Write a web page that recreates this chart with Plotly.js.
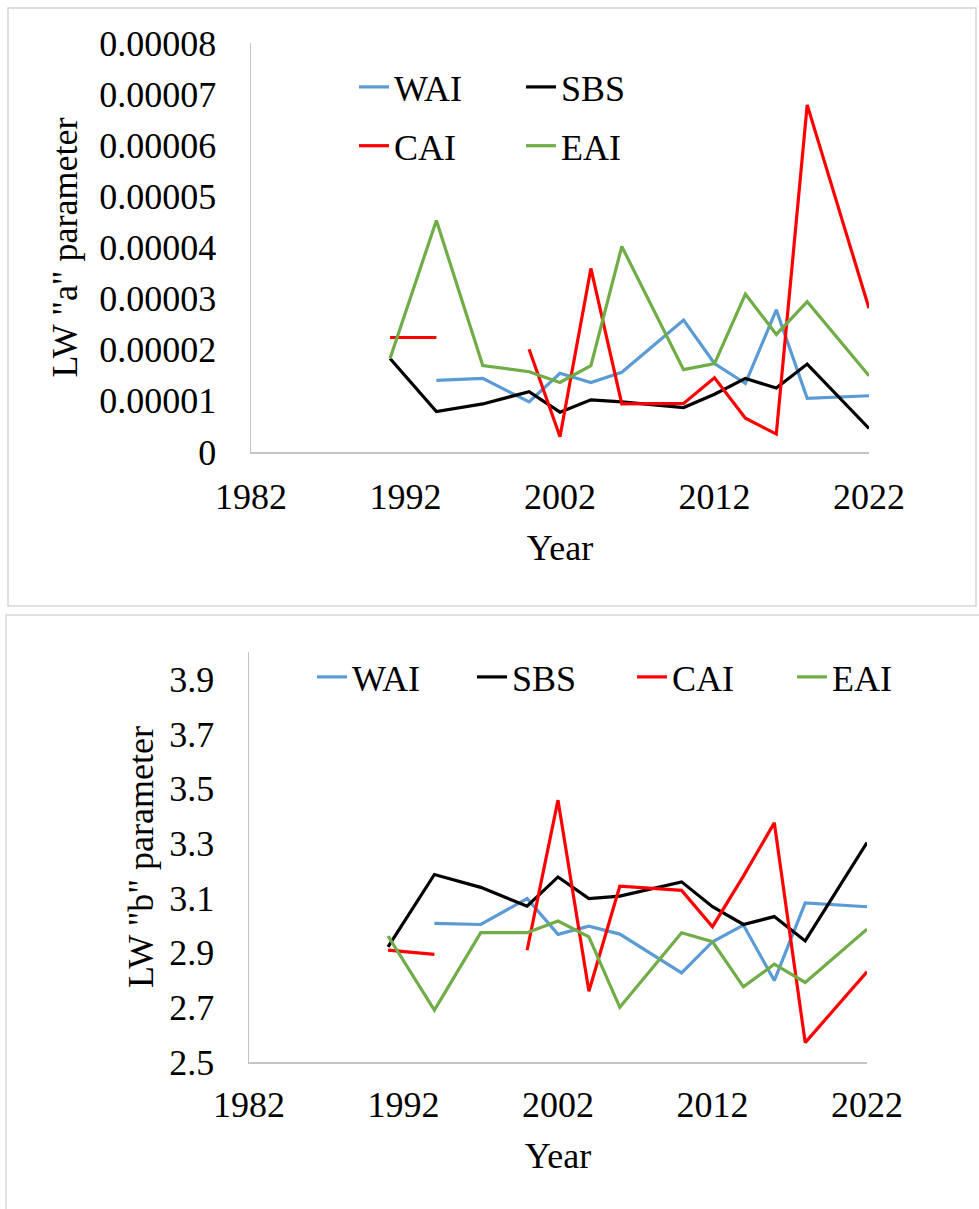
<!DOCTYPE html>
<html>
<head>
<meta charset="utf-8">
<script src="https://cdn.plot.ly/plotly-3.0.1.min.js"></script>
<style>
  html, body { margin: 0; padding: 0; background: #fff; }
  #chart { width: 979px; height: 1209px; }
</style>
</head>
<body>
<div id="chart"></div>
<script>
// sampling years (same for both panels)
const years = [1991, 1994, 1997, 2000, 2002, 2004, 2006, 2010, 2012, 2014, 2016, 2018, 2022];
const seriesNames = ['WAI', 'SBS', 'CAI', 'EAI'];
const seriesColors = ['#5b9bd5', '#000000', '#ff0000', '#70ad47'];

// LW "a" parameter per region
const aWAI = [null, 1.40e-5, 1.44e-5, 0.98e-5, 1.54e-5, 1.36e-5, 1.56e-5, 2.58e-5, 1.73e-5, 1.34e-5, 2.78e-5, 1.05e-5, 1.10e-5];
const aSBS = [1.83e-5, 0.79e-5, 0.94e-5, 1.18e-5, 0.78e-5, 1.02e-5, 0.98e-5, 0.87e-5, 1.13e-5, 1.44e-5, 1.25e-5, 1.72e-5, 0.46e-5];
const aCAI = [2.24e-5, 2.24e-5, null, 2.01e-5, 0.30e-5, 3.59e-5, 0.94e-5, 0.95e-5, 1.45e-5, 0.66e-5, 0.35e-5, 6.79e-5, 2.81e-5];
const aEAI = [1.83e-5, 4.53e-5, 1.69e-5, 1.57e-5, 1.36e-5, 1.69e-5, 4.02e-5, 1.61e-5, 1.73e-5, 3.09e-5, 2.30e-5, 2.94e-5, 1.49e-5];

// LW "b" parameter per region
const bWAI = [null, 3.007, 3.003, 3.098, 2.967, 2.997, 2.968, 2.826, 2.940, 3.001, 2.798, 3.082, 3.068];
const bSBS = [2.921, 3.186, 3.139, 3.070, 3.177, 3.098, 3.107, 3.159, 3.068, 3.003, 3.032, 2.943, 3.303];
const bCAI = [2.909, 2.894, null, 2.909, 3.458, 2.759, 3.143, 3.128, 2.995, 3.180, 3.375, 2.571, 2.830];
const bEAI = [2.961, 2.690, 2.973, 2.973, 3.016, 2.958, 2.700, 2.973, 2.940, 2.775, 2.858, 2.791, 2.986];

// tick labels
const yearTicks = [1982, 1992, 2002, 2012, 2022];
const aTickVals = [0, 0.00001, 0.00002, 0.00003, 0.00004, 0.00005, 0.00006, 0.00007, 0.00008];
const aTickText = ['0', '0.00001', '0.00002', '0.00003', '0.00004', '0.00005', '0.00006', '0.00007', '0.00008'];
const bTickVals = [2.5, 2.7, 2.9, 3.1, 3.3, 3.5, 3.7, 3.9];
const bTickText = ['2.5', '2.7', '2.9', '3.1', '3.3', '3.5', '3.7', '3.9'];

const W = 979, H = 1209;
const px = x => x / W;
const py = y => 1 - y / H;

const FONT = '"Liberation Serif", "Times New Roman", Times, serif';
const AXIS_GREY = '#c4c4c4';
const BOX_GREY = '#d6d6d6';

const aValues = [aWAI, aSBS, aCAI, aEAI];
const bValues = [bWAI, bSBS, bCAI, bEAI];

const traces = [];

// top panel: legend is a 2x2 grid, so use two vertical legends side by side
aValues.forEach((vals, i) => {
  traces.push({
    type: 'scatter',
    mode: 'lines',
    x: years,
    y: vals,
    name: seriesNames[i],
    line: { color: seriesColors[i], width: 3.2 },
    connectgaps: false,
    xaxis: 'x',
    yaxis: 'y',
    legend: (i === 0 || i === 2) ? 'legend' : 'legend2',
    legendgroup: 'a' + seriesNames[i]
  });
});

// bottom panel: single horizontal legend
bValues.forEach((vals, i) => {
  traces.push({
    type: 'scatter',
    mode: 'lines',
    x: years,
    y: vals,
    name: seriesNames[i],
    line: { color: seriesColors[i], width: 3.2 },
    connectgaps: false,
    xaxis: 'x2',
    yaxis: 'y2',
    legend: 'legend3',
    legendgroup: 'b' + seriesNames[i]
  });
});

function xAxis(domain, anchor, labelGap, titleGap) {
  return {
    domain: domain,
    anchor: anchor,
    range: [1982, 2022],
    tickvals: yearTicks,
    ticktext: yearTicks.map(String),
    showgrid: false,
    zeroline: false,
    showline: true,
    linecolor: AXIS_GREY,
    linewidth: 1.5,
    ticks: '',
    ticklabelstandoff: labelGap,
    tickfont: { family: FONT, size: 36, color: '#000' },
    title: { text: 'Year', font: { family: FONT, size: 36, color: '#000' }, standoff: titleGap },
    fixedrange: true
  };
}

function yAxis(domain, anchor, range, vals, text, label, titleGap) {
  return {
    domain: domain,
    anchor: anchor,
    range: range,
    tickvals: vals,
    ticktext: text,
    showgrid: false,
    zeroline: false,
    showline: true,
    linecolor: AXIS_GREY,
    linewidth: 1.5,
    ticks: '',
    ticklabelstandoff: 26,
    tickfont: { family: FONT, size: 36, color: '#000' },
    title: { text: label, font: { family: FONT, size: 36, color: '#000' }, standoff: titleGap },
    fixedrange: true
  };
}

const legendBase = {
  font: { family: FONT, size: 36, color: '#000' },
  bgcolor: 'rgba(0,0,0,0)',
  borderwidth: 0,
  xanchor: 'left',
  yanchor: 'top',
  orientation: 'v',
  tracegroupgap: 9
};

const layout = {
  width: W,
  height: H,
  margin: { l: 0, r: 0, t: 0, b: 0 },
  paper_bgcolor: '#fff',
  plot_bgcolor: 'rgba(0,0,0,0)',
  font: { family: FONT, color: '#000' },
  hovermode: false,
  xaxis: xAxis([px(251), px(869)], 'y', 12, 19),
  yaxis: yAxis([py(452), py(43)], 'x', [0, 0.00008], aTickVals, aTickText, 'LW "a" parameter', 10),
  xaxis2: xAxis([px(249), px(867)], 'y2', 10, 19),
  yaxis2: yAxis([py(1062), py(652)], 'x2', [2.5, 4.0], bTickVals, bTickText, 'LW "b" parameter', 4),
  legend: Object.assign({}, legendBase, { x: px(354), y: py(57) }),
  legend2: Object.assign({}, legendBase, { x: px(521), y: py(57) }),
  legend3: Object.assign({}, legendBase, {
    x: px(312), y: py(677), yanchor: 'middle', orientation: 'h',
    entrywidth: 115, entrywidthmode: 'pixels'
  }),
  // the two framed chart boxes
  shapes: [
    { type: 'rect', xref: 'paper', yref: 'paper', layer: 'below',
      x0: px(8), x1: px(976), y0: py(606), y1: py(8),
      line: { color: BOX_GREY, width: 1.5 } },
    { type: 'rect', xref: 'paper', yref: 'paper', layer: 'below',
      x0: px(6), x1: px(985), y0: py(1220), y1: py(615),
      line: { color: BOX_GREY, width: 1.5 } }
  ]
};

Plotly.newPlot('chart', traces, layout, { displayModeBar: false, staticPlot: true });
</script>
</body>
</html>
